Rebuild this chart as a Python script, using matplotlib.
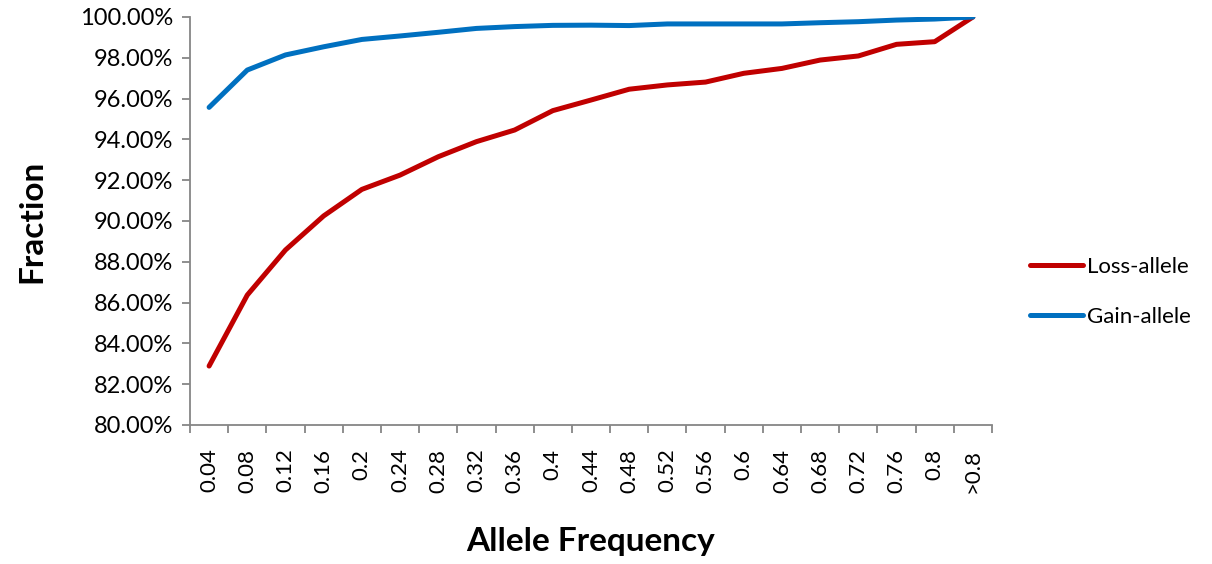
import matplotlib.pyplot as plt
import numpy as np
from matplotlib.ticker import FuncFormatter

# allele frequency bins
categories = ['0.04', '0.08', '0.12', '0.16', '0.2', '0.24', '0.28', '0.32', '0.36', '0.4',
              '0.44', '0.48', '0.52', '0.56', '0.6', '0.64', '0.68', '0.72', '0.76', '0.8', '>0.8']

# cumulative fraction (%)
loss_allele = [82.89, 86.37, 88.58, 90.25, 91.55, 92.25, 93.15, 93.89, 94.46, 95.41,
               95.93, 96.46, 96.67, 96.81, 97.24, 97.48, 97.89, 98.09, 98.66, 98.79, 100.0]
gain_allele = [95.57, 97.40, 98.14, 98.54, 98.90, 99.07, 99.25, 99.44, 99.53, 99.59,
               99.60, 99.58, 99.66, 99.66, 99.66, 99.66, 99.72, 99.77, 99.85, 99.90, 100.0]

plt.rcParams['font.family'] = ['Lato', 'DejaVu Sans']
grey = '#868686'

fig = plt.figure(figsize=(12.12, 5.64), dpi=100)
ax = fig.add_axes([190/1212, 1-425/564, (992-190)/1212, (425-17)/564])

x = np.arange(len(categories))
ax.plot(x, loss_allele, c='#C00000', lw=3.6, solid_capstyle='round', label='Loss-allele')
ax.plot(x, gain_allele, c='#0070C0', lw=3.6, solid_capstyle='round', label='Gain-allele')

ax.set_xlim(-0.5, len(categories)-0.5)
ax.set_ylim(80, 100)
ax.set_yticks(np.arange(80, 100.1, 2))
ax.yaxis.set_major_formatter(FuncFormatter(lambda v, p: '%.2f%%' % v))

# excel style: ticks between categories, labels at centres
ax.set_xticks(np.arange(-0.5, len(categories)), minor=False)
ax.set_xticklabels([])
ax.set_xticks(x, minor=True)
ax.set_xticklabels(categories, minor=True, rotation=90, fontsize=16)
ax.tick_params(axis='x', which='minor', length=0, pad=17)
ax.tick_params(axis='x', which='major', length=6, color=grey, width=1.3, direction='out')
ax.tick_params(axis='y', length=6, color=grey, width=1.3, labelsize=17, pad=6)

for s in ['top', 'right']:
    ax.spines[s].set_visible(False)
for s in ['left', 'bottom']:
    ax.spines[s].set_color(grey)
    ax.spines[s].set_linewidth(1.3)

ax.set_xlabel('Allele Frequency', fontsize=24, fontweight='bold', labelpad=25)
ax.set_ylabel('Fraction', fontsize=24, fontweight='bold', labelpad=24)

fig.legend(loc='center left', bbox_to_anchor=(1030/1212, 1-292/564), frameon=False,
           borderaxespad=0, borderpad=0,
           fontsize=16, handlelength=2.4, handletextpad=0.15, labelspacing=1.35)

fig.savefig('out.png', dpi=100)
